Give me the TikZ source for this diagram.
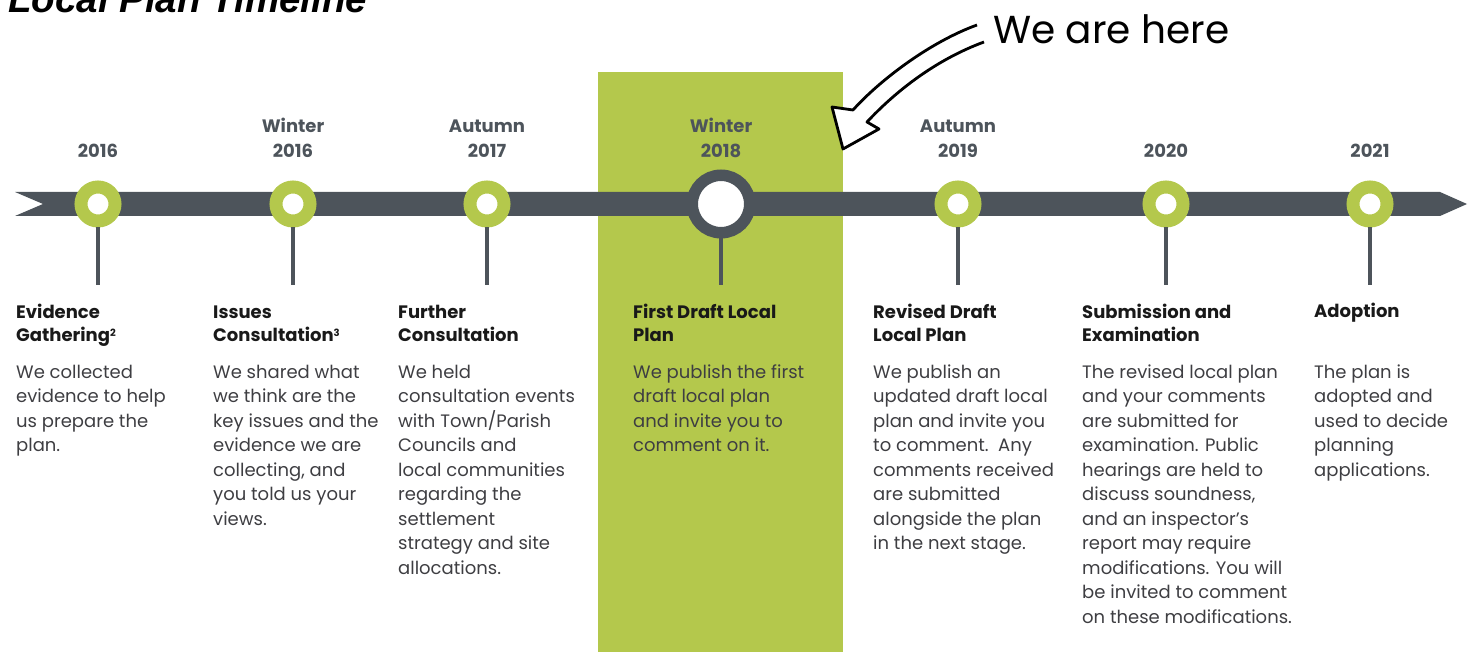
\documentclass[tikz,border=0pt]{standalone}
\usepackage{fontspec}
\setmainfont{Poppins}
\newfontfamily\titlefont{Liberation Sans}
\usetikzlibrary{positioning}
\definecolor{leaf}{RGB}{180,200,76}
\definecolor{slate}{RGB}{77,84,91}
\definecolor{ink}{RGB}{62,62,66}
\newcommand{\notemark}[1]{\raisebox{5pt}{\fontsize{10}{10}\selectfont #1}}
\tikzset{
milestone/.style={circle, inner sep=0pt, minimum size=34pt, fill=white, draw=leaf, line width=13pt}, % green ring on the line
nowring/.style={circle, inner sep=0pt, minimum size=57.5pt, fill=white, draw=slate, line width=11.5pt}, % the stage we are at
stem/.style={slate, line width=4pt}, % tick from a ring down to its text
year/.style={align=center, inner sep=0pt, text=slate, font=\bfseries\fontsize{18}{24.5}\selectfont},
stage/.style={anchor=base west, align=left, inner sep=0pt, text=black!90, font=\bfseries\fontsize{18}{23.5}\selectfont}, % placed at its last baseline
blurb/.style={anchor=base west, align=left, inner sep=0pt, text=ink, font=\fontsize{18}{24.5}\selectfont}, % placed at its last baseline
}

\begin{document}
\begin{tikzpicture}[x=1pt, y=-1pt]
      \useasboundingbox (0,0) rectangle (1473,652);
      \clip (0,0) rectangle (1473,652);

      % title, cut off at the top
      \node[anchor=base west, inner sep=0pt, font=\titlefont\bfseries\itshape\fontsize{38.5}{38.5}\selectfont] (title) at (8,13) {Local Plan Timeline};

      % highlight behind the current stage
      \fill[leaf] (598,72) rectangle (843,652);

      % the time line
      \fill[slate] (15,192) -- (1440,192) -- (1467,204) -- (1440,216) -- (15,216) -- (43,204) -- cycle;

      \node[milestone] (c1) at (98,204) {};
      \node[milestone] (c2) at (293,204) {};
      \node[milestone] (c3) at (487,204) {};
      \node[nowring] (c4) at (721,204) {};
      \node[milestone] (c5) at (958,204) {};
      \node[milestone] (c6) at (1166,204) {};
      \node[milestone] (c7) at (1370,204) {};

      \coordinate (s1) at (98,285);
      \coordinate (s2) at (293,285);
      \coordinate (s3) at (487,285);
      \coordinate (s4) at (721,285);
      \coordinate (s5) at (958,285);
      \coordinate (s6) at (1166,285);
      \coordinate (s7) at (1370,285);

      \draw[stem] (c1.south) -- (s1);
      \draw[stem] (c2.south) -- (s2);
      \draw[stem] (c3.south) -- (s3);
      \draw[stem] (c4.south) -- (s4);
      \draw[stem] (c5.south) -- (s5);
      \draw[stem] (c6.south) -- (s6);
      \draw[stem] (c7.south) -- (s7);

      % dates
      \node[year, above=23pt of c1] (y1) {2016};
      \node[year, above=23pt of c2] (y2) {Winter\\2016};
      \node[year, above=23pt of c3] (y3) {Autumn\\2017};
      \node[year, above=12pt of c4] (y4) {Winter\\2018};
      \node[year, above=23pt of c5] (y5) {Autumn\\2019};
      \node[year, above=23pt of c6] (y6) {2020};
      \node[year, above=23pt of c7] (y7) {2021};

      % stages
      \node[stage] (h1) at (16,341.5) {Evidence\\Gathering\notemark{2}};
      \node[stage] (h2) at (213,341.5) {Issues\\Consultation\notemark{3}};
      \node[stage] (h3) at (398,341.5) {Further\\Consultation};
      \node[stage] (h4) at (633,341.5) {First Draft Local\\Plan};
      \node[stage] (h5) at (873,341.5) {Revised Draft\\Local Plan};
      \node[stage] (h6) at (1082,341.5) {Submission and\\Examination};
      \node[stage] (h7) at (1314,318) {Adoption};

      \node[blurb] (b1) at (16,451.5) {We collected\\evidence to help\\us prepare the\\plan.};
      \node[blurb] (b2) at (213,525) {We shared what\\we think are the\\key issues and the\\evidence we are\\collecting, and\\you told us your\\views.};
      \node[blurb] (b3) at (398,574) {We held\\consultation events\\with Town/Parish\\Councils and\\local communities\\regarding the\\settlement\\strategy and site\\allocations.};
      \node[blurb] (b4) at (633,451.5) {We publish the first\\draft local plan\\and invite you to\\comment on it.};
      \node[blurb] (b5) at (873,549.5) {We publish an\\updated draft local\\plan and invite you\\to comment.\ \ Any\\comments received\\are submitted\\alongside the plan\\in the next stage.};
      \node[blurb] (b6) at (1082,623) {The revised local plan\\and your comments\\are submitted for\\examination. Public\\hearings are held to\\discuss soundness,\\and an inspector’s\\report may require\\modifications. You will\\be invited to comment\\on these modifications.};
      \node[blurb] (b7) at (1314,476) {The plan is\\adopted and\\used to decide\\planning\\applications.};

      % pointer
      \node[anchor=base west, inner sep=0pt, font=\fontsize{39}{39}\selectfont] (here) at (993,44) {We are here};
      \draw[line width=2.8pt, line join=round, fill=white]
        (977,25) .. controls (930,42) and (880,80) .. (853,110) -- (832,107) -- (843,149)
        -- (879,129) -- (867,122) .. controls (895,92) and (935,60) .. (984,42);
    \end{tikzpicture}
\end{document}
